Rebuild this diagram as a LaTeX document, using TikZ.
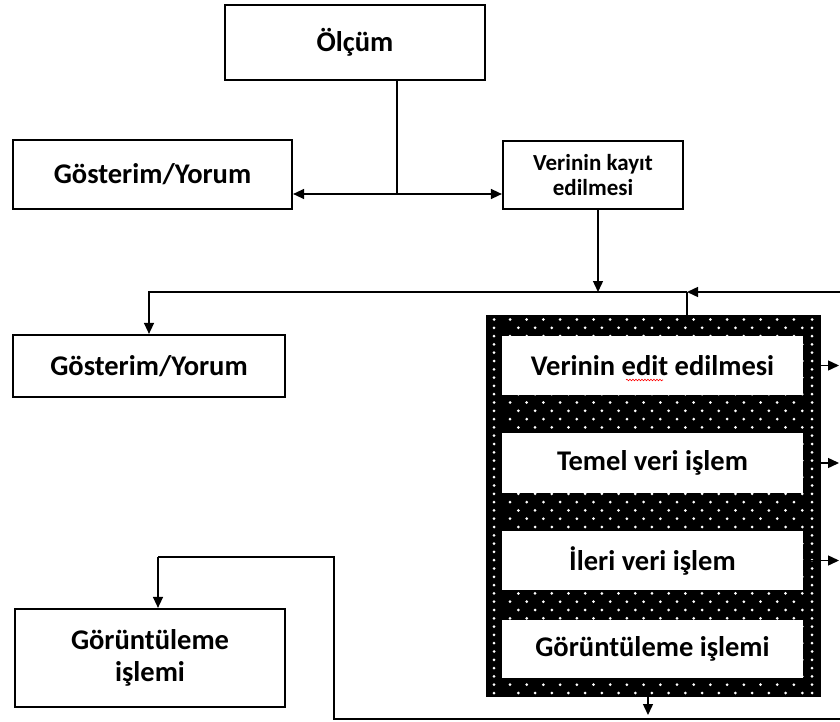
\documentclass[tikz,border=0pt]{standalone}
\usepackage{fontspec}
\setmainfont{Carlito}
\usetikzlibrary{arrows.meta,decorations.pathmorphing}
\begin{document}
\begin{tikzpicture}[x=1pt,y=-1pt,
  box/.style={draw, line width=2.2pt, fill=white, inner sep=0pt, align=center,
    font=\bfseries\fontsize{28.5}{32}\selectfont},
  smallbox/.style={box, font=\bfseries\fontsize{23}{25}\selectfont},
  inbox/.style={fill=white, draw=none, inner sep=0pt, align=center,
    font=\bfseries\fontsize{28.5}{32}\selectfont},
  bigbox/.style={fill=black, draw=none, inner sep=0pt},
  conn/.style={line width=1.4pt},
  arr/.style={conn, -{Triangle[length=11pt,width=10pt]}},
  dot/.style={fill=white},
]
\path[use as bounding box, fill=white] (0,0) rectangle (840,722);

% nodes
\node[box, minimum width=260pt, minimum height=75pt] (olcum) at (355,42.5) {Ölçüm};
\node[box, minimum width=279pt, minimum height=69pt] (gos1) at (152.5,174.5) {Gösterim/Yorum};
\node[smallbox, minimum width=180pt, minimum height=68pt] (kayit) at (593,175) {Verinin kayıt\\edilmesi};
\node[box, minimum width=272pt, minimum height=62pt] (gos2) at (149,366) {Gösterim/Yorum};
\node[box, minimum width=270pt, minimum height=98pt] (gorunt) at (150,658) {Görüntüleme\\işlemi};

% big dotted frame
\node[bigbox, minimum width=335pt, minimum height=382pt] (big) at (653.5,506) {};
\foreach \r in {0,...,45} {
  \pgfmathsetmacro{\yy}{319.5+\r*8.3}
  \pgfmathsetmacro{\off}{mod(\r,2)*8.35}
  \foreach \c in {0,...,17} {
    \fill[dot] ({510+\off+\c*16.7},\yy) circle (1.5pt);
  }
  \fill[dot] (494,\yy) circle (1.5pt);
  \fill[dot] (812,\yy) circle (1.5pt);
}
\node[inbox, minimum width=301pt, minimum height=59pt] (in1) at (652.5,365.5) {Verinin edit edilmesi};
\node[inbox, minimum width=301pt, minimum height=60pt] (in2) at (652.5,463) {Temel veri işlem};
\node[inbox, minimum width=301pt, minimum height=59pt] (in3) at (652.5,560.5) {İleri veri işlem};
\node[inbox, minimum width=301pt, minimum height=58pt] (in4) at (652.5,649) {Görüntüleme işlemi};
\draw[red, line width=0.6pt, decorate, decoration={snake, amplitude=0.8pt, segment length=3pt}] (626,380) -- (663,380);

% coordinates
\coordinate (T) at (397,194);
\coordinate (J) at (687,292);
\coordinate (RT) at (840,292);
\coordinate (E) at (839,0);
\coordinate (Btip) at (648,715);
\coordinate (BR) at (840,719);
\coordinate (BL) at (334,719);
\coordinate (G) at (334,557);
\coordinate (Gt) at (158,557);

% connectors
\draw[conn] (olcum.south -| T) -- (T);
\draw[arr] (T) -- (T -| gos1.east);
\draw[arr] (T) -- (T -| kayit.west);
\draw[arr] ([xshift=5pt]kayit.south) -- ([xshift=5pt]kayit.south |- J);
\draw[arr] (J) -| (gos2.north);
\draw[conn] (J) -- (J |- big.north);
\draw[arr] (RT) -- (J);
\draw[arr] (in1.east) -- (in1.east -| E);
\draw[arr] (in2.east) -- (in2.east -| E);
\draw[arr] (in3.east) -- (in3.east -| E);
\draw[arr] (Btip |- big.south) -- (Btip);
\draw[conn] (BR) -- (BL) -- (G) -- (Gt);
\draw[arr] (Gt) -- (Gt |- gorunt.north);
\end{tikzpicture}
\end{document}
